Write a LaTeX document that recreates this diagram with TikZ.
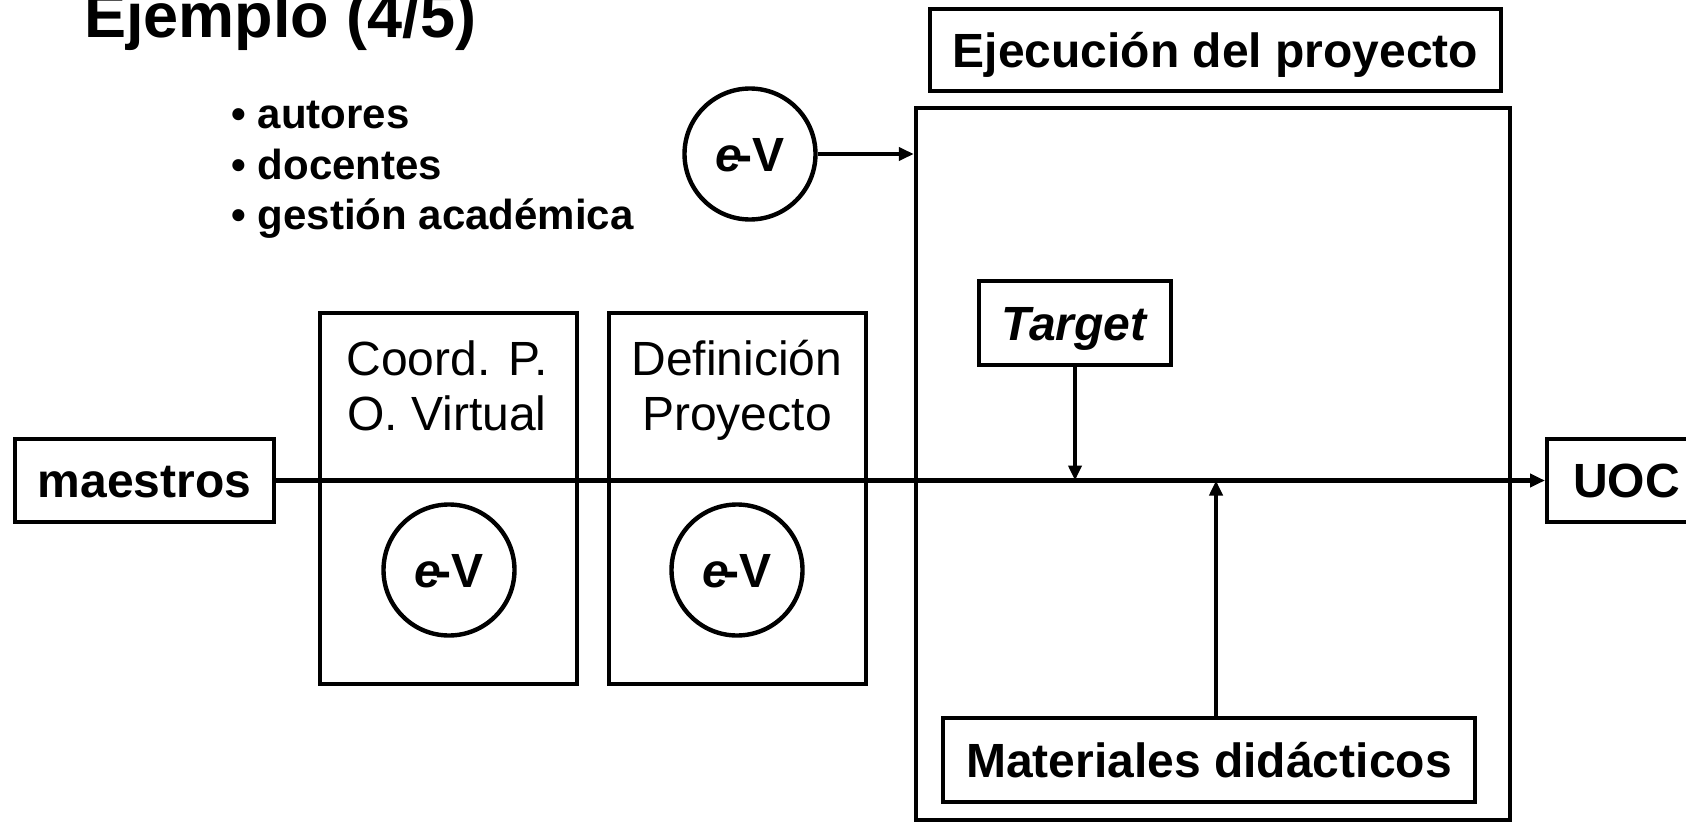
\documentclass[tikz,border=0pt]{standalone}
\usepackage{fontspec}
\setmainfont{Liberation Sans}
\usetikzlibrary{arrows.meta}
\begin{document}
\begin{tikzpicture}[x=0.5pt,y=-0.5pt,
  lw/.style={line width=2.2pt},
  box/.style={draw, lw, inner sep=0pt, font=\fontsize{24}{28}\selectfont\bfseries,
    text height=17.2pt, text depth=0pt},
  plainbox/.style={draw, lw, inner sep=0pt},
  evc/.style={draw, lw, circle, inner sep=0pt, minimum size=65.5pt,
    font=\fontsize{24}{28}\selectfont\bfseries, text height=17.2pt, text depth=0pt},
  lbl/.style={inner sep=0pt, align=center, font=\fontsize{24}{27.5}\selectfont},
  bul/.style={inner sep=0pt, anchor=base west, font=\fontsize{21}{25}\selectfont\bfseries},
  arr/.style={lw, -{Triangle[length=7.5pt,width=6.5pt]}}
]
\useasboundingbox (0,0) rectangle (1686,824);

% title
\node[anchor=base west, inner sep=0pt, font=\fontsize{31.5}{36}\selectfont\bfseries] (title) at (84,38) {Ejemplo (4/5)};

% bullets
\node[bul] (b1) at (231,128) {• autores};
\node[bul] (b2) at (231,179) {• docentes};
\node[bul] (b3) at (231,229) {• gestión académica};

% big execution box
\node[plainbox, minimum width=297pt, minimum height=356pt] (exec) at (1213,464) {};
\node[box, minimum width=285.5pt, minimum height=41pt] (ejec) at (1215.5,50) {Ejecución del proyecto};

% top e-V
\node[evc] (ev1) at (750,154) {\textit{e}\kern-2.5pt-V};
\draw[arr] (ev1.east) -- (ev1.east -| exec.west);

% side boxes
\node[plainbox, minimum width=128.5pt, minimum height=185.5pt] (coord) at (448.5,498.5) {};
\node[plainbox, minimum width=128.5pt, minimum height=185.5pt] (defi) at (737.5,498.5) {};
\node[lbl, anchor=north] (coordtxt) at (447,340) {Coord. P.\\O. Virtual};
\node[lbl, anchor=north] (defitxt) at (737,340) {Definición\\Proyecto};
\node[evc] (ev2) at (449,570) {\textit{e}\kern-2.5pt-V};
\node[evc] (ev3) at (737,570) {\textit{e}\kern-2.5pt-V};

% end boxes
\node[box, minimum width=129.5pt, minimum height=41.5pt] (maes) at (144.5,480.5) {maestros};
\node[box, minimum height=41.5pt, anchor=west, text width=67pt, align=left, inner xsep=13pt] (uoc) at (1545,480.5) {UOC};

% main line
\draw[arr] (maes.east) -- (uoc.west);

% target
\node[box, minimum width=96pt, minimum height=42pt] (tgt) at (1075,323) {\textit{Target}};
\draw[arr] (tgt.south) -- (tgt.south |- maes.east);

% materiales
\node[box, minimum width=266pt, minimum height=42pt] (mat) at (1209,760) {Materiales didácticos};
\coordinate (matt) at ([xshift=3.5pt]mat.north);
\draw[arr] (matt) -- (matt |- maes.east);
\end{tikzpicture}
\end{document}
